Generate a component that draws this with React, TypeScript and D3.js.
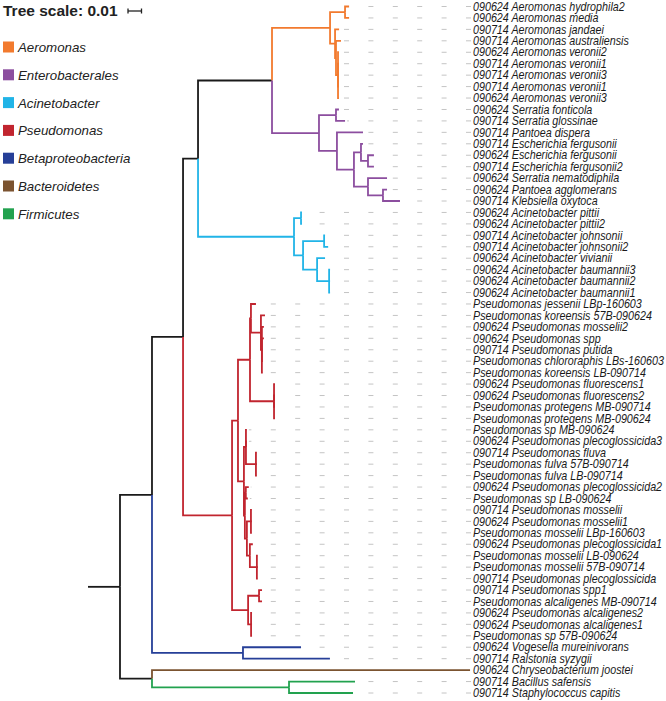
import React from "react";
import * as d3 from "d3";

const W = 666;
const H = 701;

const leafLabels = [
  "090624 Aeromonas hydrophila2",
  "090624 Aeromonas media",
  "090714 Aeromonas jandaei",
  "090714 Aeromonas australiensis",
  "090624 Aeromonas veronii2",
  "090714 Aeromonas veronii1",
  "090714 Aeromonas veronii3",
  "090714 Aeromonas veronii1",
  "090624 Aeromonas veronii3",
  "090624 Serratia fonticola",
  "090714 Serratia glossinae",
  "090714 Pantoea dispera",
  "090714 Escherichia fergusonii",
  "090624 Escherichia fergusonii",
  "090714 Escherichia fergusonii2",
  "090624 Serratia nematodiphila",
  "090624 Pantoea agglomerans",
  "090714 Klebsiella oxytoca",
  "090624 Acinetobacter pittii",
  "090624 Acinetobacter pittii2",
  "090714 Acinetobacter johnsonii",
  "090714 Acinetobacter johnsonii2",
  "090624 Acinetobacter vivianii",
  "090624 Acinetobacter baumannii3",
  "090624 Acinetobacter baumannii2",
  "090624 Acinetobacter baumannii1",
  "Pseudomonas jessenii LBp-160603",
  "Pseudomonas koreensis 57B-090624",
  "090624 Pseudomonas mosselii2",
  "090624 Pseudomonas spp",
  "090714 Pseudomonas putida",
  "Pseudomonas chlororaphis LBs-160603",
  "Pseudomonas koreensis LB-090714",
  "090624 Pseudomonas fluorescens1",
  "090624 Pseudomonas fluorescens2",
  "Pseudomonas protegens MB-090714",
  "Pseudomonas protegens MB-090624",
  "Pseudomonas sp MB-090624",
  "090624 Pseudomonas plecoglossicida3",
  "090714 Pseudomonas fluva",
  "Pseudomonas fulva 57B-090714",
  "Pseudomonas fulva LB-090714",
  "090624 Pseudomonas plecoglossicida2",
  "Pseudomonas sp LB-090624",
  "090714 Pseudomonas mosselii",
  "090624 Pseudomonas mosselii1",
  "Pseudomonas mosselii LBp-160603",
  "090624 Pseudomonas plecoglossicida1",
  "Pseudomonas mosselii LB-090624",
  "Pseudomonas mosselii 57B-090714",
  "090714 Pseudomonas plecoglossicida",
  "090714 Pseudomonas spp1",
  "Pseudomonas alcaligenes MB-090714",
  "090624 Pseudomonas alcaligenes2",
  "090624 Pseudomonas alcaligenes1",
  "Pseudomonas sp 57B-090624",
  "090624 Vogesella mureinivorans",
  "090714 Ralstonia syzygii",
  "090624 Chryseobacterium joostei",
  "090714 Bacillus safensis",
  "090714 Staphylococcus capitis",
];

// Tree with branch lengths (substitutions per site); leaves L# index leafLabels
const newickAeromonas =
  "((L0:0.0030,L1:0.0030):0.0111,(L2:0.0030,(L3:0.0037,(L4:0.0007,L5:0.0007,L6:0.0007,L7:0.0007,L8:0.0007):0.0015):0.0007):0.0037)Aeromonas:0.0430";
const newickEntero =
  "((L9:0.0022,L10:0.0067):0.0126,(L11:0.0193,((L12:0.0015,(L13:0.0044,L14:0.0044):0.0052):0.0052,(L15:0.0141,(L16:0.0030,L17:0.0126):0.0111):0.0104):0.0126):0.0133)Enterobacterales:0.0348";
const newickAcin =
  "((L18:0.0007,L19:0.0007):0.0052,((L20:0.0007,L21:0.0030):0.0156,(L22:0.0059,(L23:0.0007,L24:0.0007,L25:0.0007):0.0089):0.0104):0.0067)Acinetobacter:0.0711";
const newickPseudo =
  "((((L26:0.0037,(L27:0.0030,(L28:0.0015,L29:0.0015,L30:0.0007,L31:0.0007,L32:0.0007):0.0007):0.0074):0.0007,(L33:0.0007,L34:0.0007,L35:0.0007,L36:0.0007):0.0178):0.0089," +
  "((L37:0.0007,L38:0.0007,(L39:0.0007,L40:0.0007,L41:0.0007):0.0074):0.0015,((L42:0.0022,L43:0.0015):0.0007,((L44:0.0007,L45:0.0007,L46:0.0007):0.0030,(L47:0.0022,(L48:0.0007,L49:0.0007,L50:0.0007):0.0052):0.0022):0.0015):0.0007):0.0044):0.0044," +
  "((L51:0.0022,L52:0.0022):0.0081,(L53:0.0007,L54:0.0007,L55:0.0007):0.0022):0.0119)Pseudomonas:0.0363";
const newickBeta = "(L56:0.0430,L57:0.0644)Betaproteobacteria:0.0674";
const newickOther = "(L58:0.2356,(L59:0.0489,L60:0.0474)Firmicutes:0.1015):0.0237";
const newick =
  "(((((((" + newickAeromonas + "," + newickEntero + "):0.0548," + newickAcin + "):0.0111," +
  newickPseudo + "):0.0230," + newickBeta + "):0.0237," + newickOther + "):0.0237)root;";

const cladeNames = ["Aeromonas", "Enterobacterales", "Acinetobacter", "Pseudomonas", "Betaproteobacteria", "Bacteroidetes", "Firmicutes"];
const cladeNodes = ["Aeromonas", "Enterobacterales", "Acinetobacter", "Pseudomonas", "Betaproteobacteria", "L58", "Firmicutes"];
const cladeColors = ["#f27a2e", "#8c4e9f", "#21b4e7", "#c1252f", "#263f98", "#7b5330", "#22a24f"];

const treeScaleValue = 0.01;

function parseNewick(s: string) {
  const ancestors: any[] = [];
  let tree: any = {};
  const tokens = s.split(/\s*(;|\(|\)|,|:)\s*/);
  for (let i = 0; i < tokens.length; i++) {
    const t = tokens[i];
    switch (t) {
      case "(": {
        const sub: any = {};
        tree.children = [sub];
        ancestors.push(tree);
        tree = sub;
        break;
      }
      case ",": {
        const sub: any = {};
        ancestors[ancestors.length - 1].children.push(sub);
        tree = sub;
        break;
      }
      case ")":
        tree = ancestors.pop();
        break;
      case ":":
      case ";":
      case "":
        break;
      default: {
        const x = tokens[i - 1];
        if (x === ")" || x === "(" || x === ",") tree.name = t;
        else if (x === ":") tree.length = parseFloat(t);
      }
    }
  }
  return tree;
}

export default function App() {
  const root: any = d3.hierarchy(parseNewick(newick));
  root.eachBefore((n: any) => {
    n.len = (n.parent ? n.parent.len : 0) + (n.data.length || 0);
    const ci = cladeNodes.indexOf(n.data.name);
    n.color = ci >= 0 ? cladeColors[ci] : n.parent ? n.parent.color : "#1a1a1a";
  });
  const leaves = root.leaves();
  const maxLen = d3.max(leaves, (l: any) => l.len) as number;
  const pxPerUnit = 1350;
  const x = d3.scaleLinear().domain([0, maxLen]).range([88, 88 + maxLen * pxPerUnit]);
  const y = d3.scaleLinear().domain([0, leaves.length - 1]).range([6.5, 693]);
  leaves.forEach((l: any, i: number) => (l.yy = y(i)));
  root.eachAfter((n: any) => {
    if (n.children) n.yy = (n.children[0].yy + n.children[n.children.length - 1].yy) / 2;
  });

  const labelX = 473;
  const nodes = root.descendants().filter((n: any) => n.parent);

  return (
    <svg width={W} height={H} style={{ position: "absolute", left: 0, top: 0, background: "#fff" }}
      fontFamily="'Liberation Sans', Arial, sans-serif">
      {/* leader dashes */}
      {leaves.map((l: any, i: number) =>
        x(l.len) < labelX - 12 ? (
          <line key={"d" + i} x1={labelX - 2} x2={x(l.len) + 2} y1={l.yy} y2={l.yy}
            stroke="#c4c4c4" strokeWidth={1} strokeDasharray="5 19.4" />
        ) : null
      )}
      {/* branches */}
      {nodes.map((n: any, i: number) => (
        <path key={"b" + i}
          d={`M${x(n.parent.len)},${n.parent.yy}V${n.yy}H${x(n.len)}`}
          fill="none" stroke={n.color} strokeWidth={1.8} />
      ))}
      {/* labels */}
      {leaves.map((l: any, i: number) => (
        <g key={"t" + i} transform={`translate(${labelX},${l.yy + 4.2}) scale(0.895,1)`}>
          <text x={0} y={0} fontSize={12} fontStyle="italic" fill="#1a1a1a">
            {leafLabels[parseInt(l.data.name.slice(1))]}
          </text>
        </g>
      ))}
      {/* tree scale */}
      <text x={3} y={16} fontSize={15.5} fontWeight="bold" fill="#222">Tree scale: 0.01</text>
      <g stroke="#222" strokeWidth={1.3}>
        <line x1={128} x2={128 + x(treeScaleValue) - x(0)} y1={11} y2={11} />
        <line x1={128} x2={128} y1={8.5} y2={13.5} />
        <line x1={128 + x(treeScaleValue) - x(0)} x2={128 + x(treeScaleValue) - x(0)} y1={8.5} y2={13.5} />
      </g>
      {/* legend */}
      {cladeNames.map((c, i) => (
        <g key={"l" + i} transform={`translate(0,${47 + i * 27.8})`}>
          <rect x={3} y={-5.5} width={11} height={11} fill={cladeColors[i]} />
          <text x={18} y={5} fontSize={13.3} fontStyle="italic" fill="#222">{c}</text>
        </g>
      ))}
    </svg>
  );
}
